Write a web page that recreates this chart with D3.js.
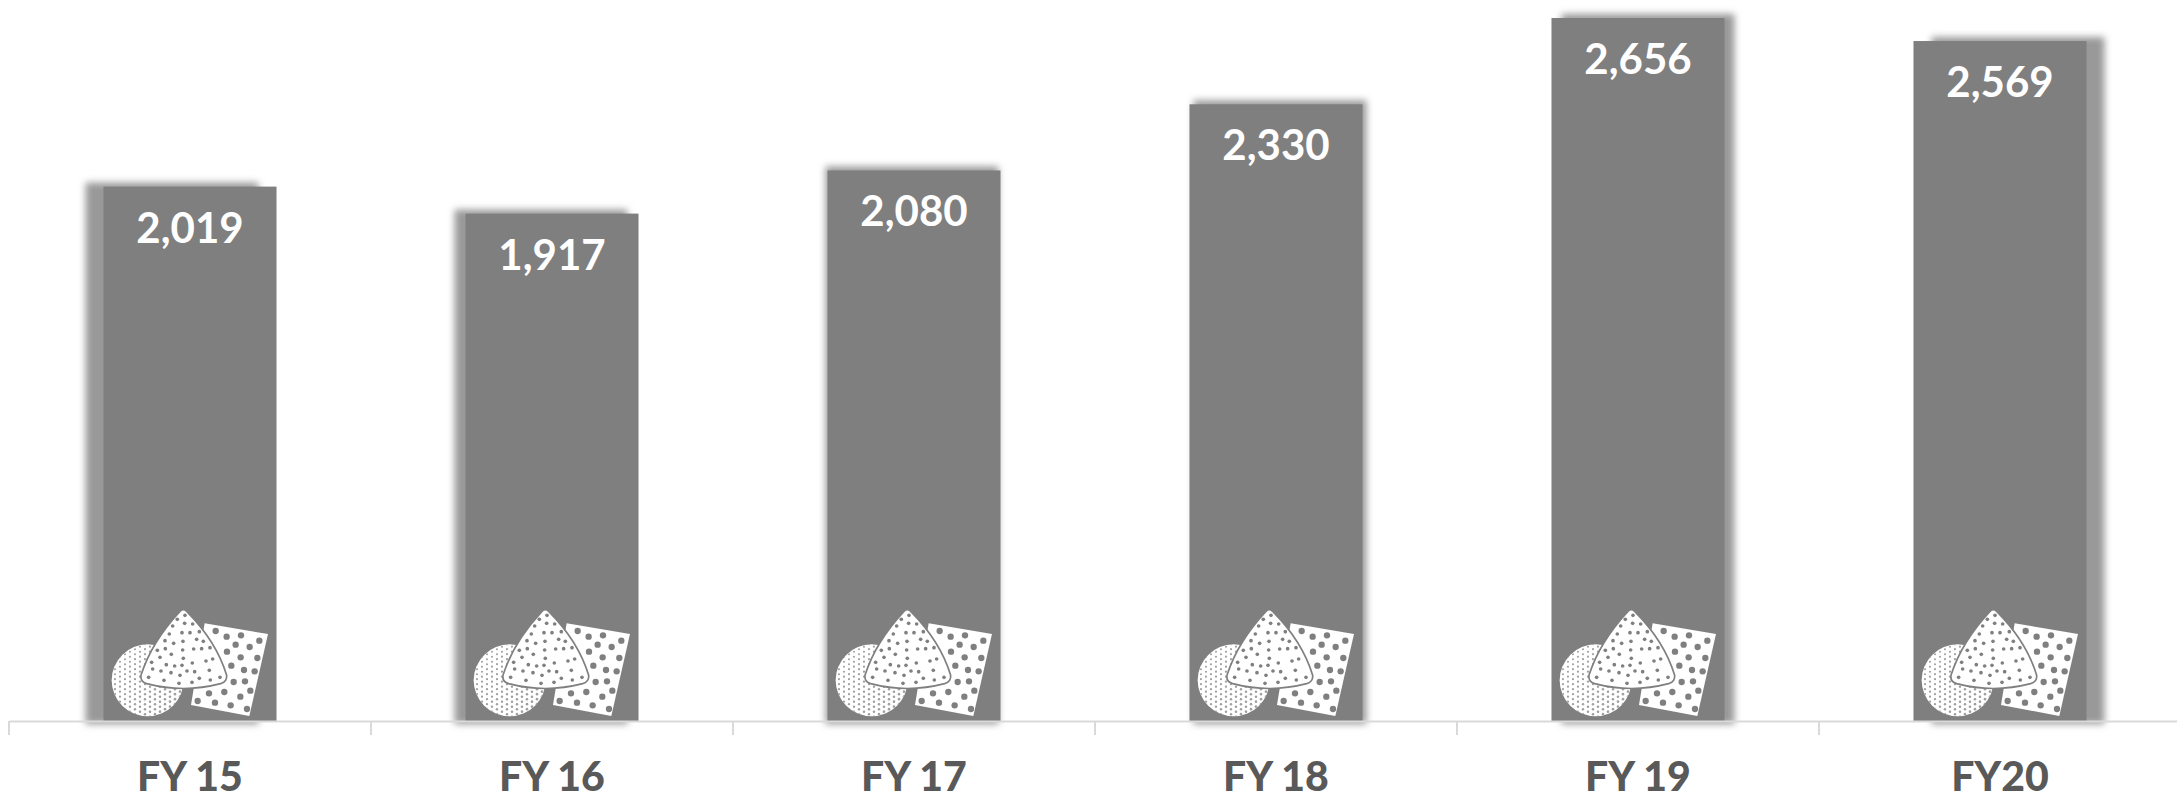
<!DOCTYPE html>
<html><head><meta charset="utf-8">
<script src="https://cdn.jsdelivr.net/npm/d3@7/dist/d3.min.js"></script>
<style>html,body{margin:0;padding:0;background:#fff;overflow:hidden}svg{display:block}</style>
</head><body><div id="chart"></div>
<script>
const categories = ["FY 15","FY 16","FY 17","FY 18","FY 19","FY20"];
const revenue = [2019,1917,2080,2330,2656,2569];
const shadowShift = [-18,-11,-2,4,10,18];
const triangleDots = [[255,46],[232,58],[254,70],[278,72],[218,78],[208,102],[246,98],[270,98],[298,95],[195,122],[221,130],[249,124],[290,118],[310,124],[172,151],[196,146],[248,150],[281,147],[305,146],[330,143],[180,172],[214,163],[250,175],[277,189],[318,183],[155,187],[199,194],[224,198],[246,196],[338,177],[158,207],[183,213],[213,218],[240,226],[261,213],[284,215],[328,211],[146,232],[192,241],[237,250],[276,247],[298,235],[360,232],[331,240]];
const sheetDots = [[347,93],[380,110],[423,106],[478,122],[407,134],[449,141],[381,155],[422,172],[472,174],[394,197],[432,210],[464,214],[401,246],[435,244],[451,272],[327,280],[373,276],[421,290],[293,303],[345,308],[392,316],[441,327]];

const W=2177,H=800,axisY=721;
const svg=d3.select("#chart").append("svg").attr("width",W).attr("height",H);
const x=d3.scaleBand().domain(categories).range([9,2181]).paddingInner(.522).paddingOuter(.261);
const y=d3.scaleLinear().domain([0,2724]).range([axisY,0]);
const defs=svg.append("defs");
defs.append("filter").attr("id","soft").attr("filterUnits","userSpaceOnUse").attr("x",0).attr("y",-40).attr("width",W).attr("height",H+40)
  .append("feGaussianBlur").attr("stdDeviation",3.5);
defs.append("clipPath").attr("id","disc").append("circle").attr("cx",143).attr("cy",241).attr("r",108);

const rows=categories.map((c,i)=>({c,v:revenue[i],s:shadowShift[i]}));
svg.append("g").selectAll("rect").data(rows).join("rect")
  .attr("x",d=>x(d.c)+d.s).attr("y",d=>y(d.v)-4)
  .attr("width",x.bandwidth()).attr("height",d=>axisY-y(d.v)+7)
  .attr("fill","#999").attr("filter","url(#soft)");
svg.append("g").selectAll("rect").data(rows).join("rect")
  .attr("x",d=>x(d.c)).attr("y",d=>y(d.v))
  .attr("width",x.bandwidth()).attr("height",d=>axisY-y(d.v))
  .attr("fill","#7f7f7f");

// decorative sanding-sheet icon, drawn at 3x and scaled down
const stipple=[];
d3.range(30,260,15).forEach((px,a)=>d3.range(125,360,15).forEach(py=>stipple.push([px+(py%2?0:0),py+(a%2?7.5:0)])));
function icon(g){
  g.append("circle").attr("cx",143).attr("cy",241).attr("r",108).attr("fill","#fff");
  g.append("g").attr("clip-path","url(#disc)").selectAll("circle").data(stipple).join("circle")
    .attr("cx",d=>d[0]).attr("cy",d=>d[1]).attr("r",d=>2.2+(d[0]+d[1])/300).attr("fill","#a0a0a0");
  g.append("path").attr("d","M314,70L504,102L448,348L273,315Z").attr("fill","#fff");
  g.append("g").selectAll("circle").data(sheetDots).join("circle")
    .attr("cx",d=>d[0]).attr("cy",d=>d[1]).attr("r",9.5).attr("fill","#7f7f7f");
  g.append("path").attr("d","M240,34Q250,24 260,34Q350,125 380,226Q382,245 362,251Q250,280 140,251Q120,245 123,226Q155,125 240,34Z")
    .attr("fill","#fff").attr("stroke","#7f7f7f").attr("stroke-width",5);
  g.append("g").selectAll("circle").data(triangleDots).join("circle")
    .attr("cx",d=>d[0]).attr("cy",d=>d[1]).attr("r",5.5).attr("fill","#7f7f7f");
}
svg.append("g").selectAll("g").data(rows).join("g")
  .attr("transform",d=>`translate(${x(d.c)-3.5},${axisY-121}) scale(${1/3})`)
  .each(function(){icon(d3.select(this));});

const axis=svg.append("g").attr("transform",`translate(0,${axisY})`)
  .call(d3.axisBottom(x).tickSize(0).tickPadding(34));
axis.select(".domain").attr("stroke","#d9d9d9").attr("stroke-width",2);
axis.selectAll("text").attr("font-family","Lato").attr("font-weight",900).attr("font-size",41).attr("fill","#595959").attr("dy",0).attr("y",70);
axis.selectAll(".bound").data(d3.range(categories.length+1)).join("line").attr("class","bound")
  .attr("x1",i=>x.range()[0]+i*x.step()).attr("x2",i=>x.range()[0]+i*x.step())
  .attr("y1",0).attr("y2",14).attr("stroke","#d9d9d9").attr("stroke-width",2);

svg.append("g").selectAll("text").data(rows).join("text")
  .attr("x",d=>x(d.c)+x.bandwidth()/2).attr("y",d=>y(d.v)+56)
  .attr("text-anchor","middle").attr("font-family","Lato").attr("font-weight",700).attr("font-size",42)
  .attr("fill","#fff").text(d=>d3.format(",")(d.v));
</script></body></html>
